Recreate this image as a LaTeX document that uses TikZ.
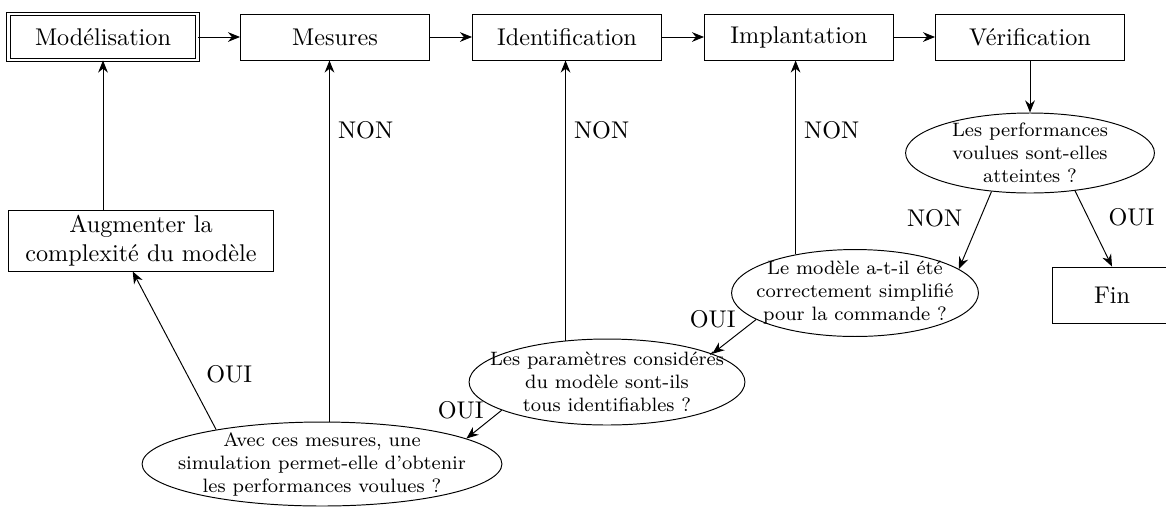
\documentclass[tikz,border=0pt]{standalone}
\usetikzlibrary{arrows.meta,shapes.geometric}
\begin{document}
\begin{tikzpicture}[x=0.01452cm,y=-0.01452cm,>={Stealth[length=5pt,width=4pt]},
etape/.style={draw,minimum width=2.744cm,minimum height=0.668cm,inner sep=0pt},
question/.style={draw,ellipse,font=\footnotesize,align=center,inner xsep=-8pt,inner ysep=-4pt}]
\useasboundingbox(0,0)rectangle(1166,507);
\node[etape,double,double distance=1pt](mod)at(103,37){Modélisation};
\node[etape](mes)at(335,37){Mesures};
\node[etape](ide)at(567,37){Identification};
\node[etape](imp)at(799,37){Implantation};
\node[etape](ver)at(1030,37){Vérification};
\node[etape,align=center,minimum width=3.862cm,minimum height=0.886cm](aug)at(141,240.5){Augmenter la\\complexité du modèle};
\node[etape,minimum width=1.728cm,minimum height=0.813cm](fin)at(1112,295){Fin};
\node[question,minimum width=5.227cm,minimum height=1.22cm](q1)at(322,464){Avec ces mesures, une\\simulation permet-elle d'obtenir\\les performances voulues ?};
\node[question,minimum width=3.862cm,minimum height=1.249cm](q2)at(607,382){Les paramètres considérés\\du modèle sont-ils\\tous identifiables ?};
\node[question,minimum width=3.586cm,minimum height=1.263cm](q3)at(855,293){Le modèle a-t-il été\\correctement simplifié\\pour la commande ?};
\node[question,minimum width=3.615cm,minimum height=1.162cm](q4)at(1030,153){Les performances\\voulues sont-elles\\atteintes ?};
\draw[->](mod)--(mes);
\draw[->](mes)--(ide);
\draw[->](ide)--(imp);
\draw[->](imp)--(ver);
\draw[->](ver)--(q4);
\draw[->](aug.north-|mod.south)--(mod.south);
\draw[->](q1.80)--(q1.80|-mes.south)node[pos=.806,right]{NON};
\draw[->](q2.135)--(q2.135|-ide.south)node[pos=.75,right]{NON};
\draw[->](q3.147)--(q3.147|-imp.south)node[pos=.64,right]{NON};
\draw[->](q1.162)--(aug.255)node[pos=.35,right=4.5pt]{OUI};
\draw[->](q2.195)--(q1.10)node[pos=0,left=4pt]{OUI};
\draw[->](q3.195)--(q2.15)node[pos=0,left=5pt]{OUI};
\draw[->](q4.225)--(q3.13)node[pos=.34,left=4pt]{NON};
\draw[->](q4.320)--(fin.north)node[pos=.35,right=5pt]{OUI};
\end{tikzpicture}
\end{document}
